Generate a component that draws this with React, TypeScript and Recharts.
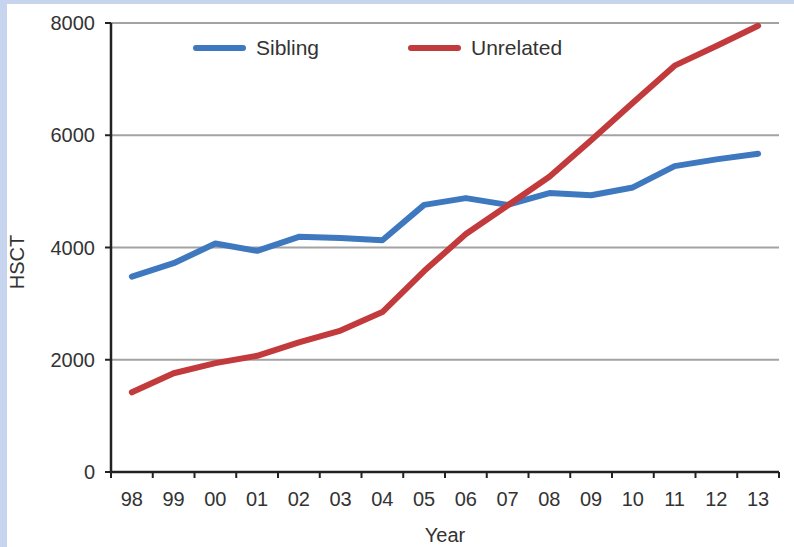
import { CartesianGrid, Legend, Line, LineChart, XAxis, YAxis } from "recharts";

const years = ["98", "99", "00", "01", "02", "03", "04", "05", "06", "07", "08", "09", "10", "11", "12", "13"];
const sibling = [3480, 3720, 4070, 3940, 4190, 4170, 4130, 4760, 4880, 4760, 4970, 4930, 5070, 5450, 5570, 5670];
const unrelated = [1420, 1760, 1940, 2070, 2310, 2520, 2850, 3580, 4240, 4750, 5260, 5910, 6580, 7240, 7590, 7950];
const yTicks = [0, 2000, 4000, 6000, 8000];

const data = years.map((year, i) => ({ year, sibling: sibling[i], unrelated: unrelated[i] }));

const font = "'Liberation Sans', Arial, sans-serif";
const textColor = "#333";
const axisColor = "#222";
const X_TICK_SIZE = 6;
const X_TICK_MARGIN = 14;

function YearTick(props: any) {
  const { x, y, payload, index } = props;
  const half = payload?.offset ?? 0;
  const axisY = y - X_TICK_SIZE - X_TICK_MARGIN;
  return (
    <g>
      {index === 0 && (
        <line x1={x - half} x2={x - half} y1={axisY} y2={axisY + X_TICK_SIZE} stroke={axisColor} strokeWidth={2} />
      )}
      <line x1={x + half} x2={x + half} y1={axisY} y2={axisY + X_TICK_SIZE} stroke={axisColor} strokeWidth={2} />
      <text x={x} y={y} dy="0.71em" textAnchor="middle" fill={textColor} fontSize={20} fontFamily={font}>
        {payload.value}
      </text>
    </g>
  );
}

function LegendContent(props: any) {
  const items = props.payload || [];
  return (
    <div style={{ display: "flex", fontFamily: font, fontSize: 21, color: textColor }}>
      {items.map((it: any) => (
        <div key={it.value} style={{ width: 215, display: "flex", alignItems: "center" }}>
          <div style={{ width: 53, height: 6, borderRadius: 3, background: it.color, marginRight: 10 }} />
          <span>{it.value}</span>
        </div>
      ))}
    </div>
  );
}

export default function App() {
  return (
    <div style={{ position: "absolute", left: 0, top: 0, width: 794, height: 547, background: "#c6d4ee" }}>
      <div style={{ position: "absolute", left: 7, top: 4, width: 787, height: 543, background: "#fff" }}>
        <LineChart
          width={787}
          height={543}
          data={data}
          margin={{ top: 19, right: 15, bottom: 45, left: 24 }}
        >
          <CartesianGrid horizontal vertical={false} stroke="#a3a3a3" strokeWidth={2} />
          <XAxis
            dataKey="year"
            scale="band"
            height={30}
            tickLine={false}
            tickSize={X_TICK_SIZE}
            tickMargin={X_TICK_MARGIN}
            axisLine={{ stroke: axisColor, strokeWidth: 2.5 }}
            tick={<YearTick />}
            interval={0}
          />
          <YAxis
            width={80}
            domain={[0, 8000]}
            ticks={yTicks}
            tickSize={6}
            tickMargin={10}
            axisLine={{ stroke: axisColor, strokeWidth: 2.5 }}
            tickLine={{ stroke: axisColor, strokeWidth: 2 }}
            tick={{ fill: textColor, fontSize: 20, fontFamily: font }}
          />
          <Legend
            layout="horizontal"
            verticalAlign="middle"
            align="center"
            wrapperStyle={{ top: 32, left: 186, width: 430 }}
            content={<LegendContent />}
          />
          <Line
            type="linear"
            dataKey="sibling"
            name="Sibling"
            stroke="#3e78bf"
            strokeWidth={6}
            strokeLinecap="round"
            strokeLinejoin="round"
            dot={false}
            isAnimationActive={false}
          />
          <Line
            type="linear"
            dataKey="unrelated"
            name="Unrelated"
            stroke="#c23a3c"
            strokeWidth={6}
            strokeLinecap="round"
            strokeLinejoin="round"
            dot={false}
            isAnimationActive={false}
          />
        </LineChart>
        <div
          style={{
            position: "absolute",
            left: 10,
            top: 258,
            width: 0,
            height: 0,
            fontFamily: font,
            fontSize: 20,
            color: textColor,
          }}
        >
          <div style={{ position: "absolute", transform: "translate(-50%, -50%) rotate(-90deg)", whiteSpace: "nowrap" }}>
            HSCT
          </div>
        </div>
        <div
          style={{
            position: "absolute",
            left: 438,
            top: 531,
            width: 0,
            height: 0,
            fontFamily: font,
            fontSize: 20,
            color: textColor,
          }}
        >
          <div style={{ position: "absolute", transform: "translate(-50%, -50%)", whiteSpace: "nowrap" }}>Year</div>
        </div>
      </div>
    </div>
  );
}
